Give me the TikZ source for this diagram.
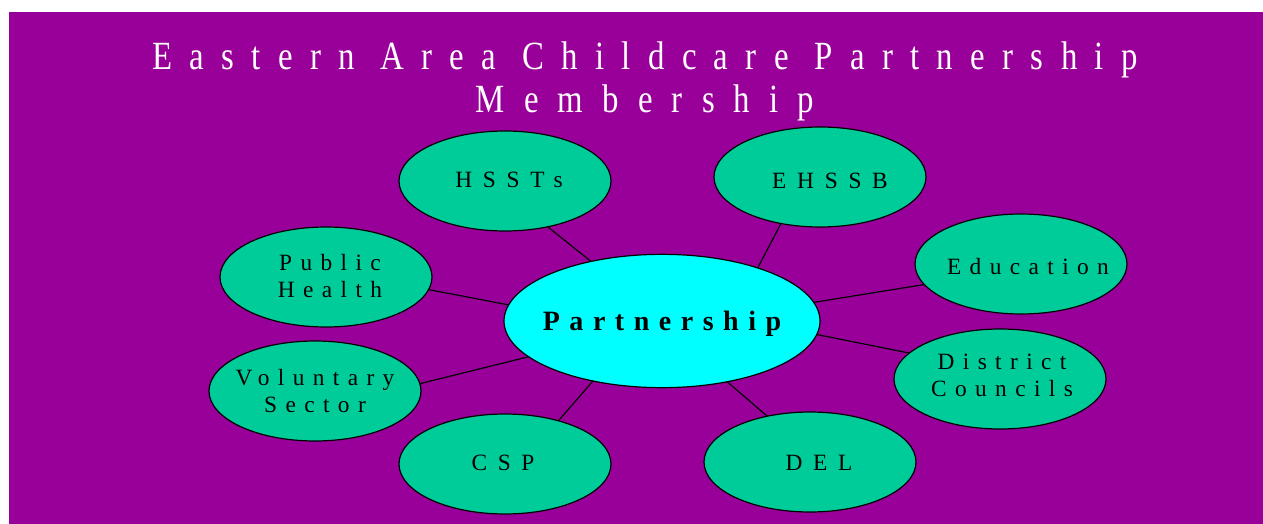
\documentclass[tikz,border=0pt]{standalone}
\usepackage{fontspec}
\setmainfont{Liberation Serif}
\newfontfamily\ttlfont[LetterSpace=43.5,FakeStretch=0.82]{Liberation Serif}
\newfontfamily\ttlfontb[LetterSpace=48,FakeStretch=0.82]{Liberation Serif}
\newfontfamily\lblfont[LetterSpace=36]{Liberation Serif}
\newfontfamily\lblwide[LetterSpace=46]{Liberation Serif}
\newfontfamily\pfont[LetterSpace=34]{Liberation Serif}
\definecolor{bgpurple}{HTML}{990099}
\definecolor{memgreen}{HTML}{00CC99}
\definecolor{hubcyan}{HTML}{00FFFF}
\usetikzlibrary{shapes.geometric}
% #1 = right shift (px), #2 = down shift (px), #3 = text
\newcommand{\fixtext}[3]{\makebox[0pt]{\hspace{#1\dimexpr1.5pt\relax}\raisebox{-#2\dimexpr0.75pt\relax}[\height][\depth]{\begin{tabular}{@{}c@{}}#3\end{tabular}}}}
\tikzset{
  member/.style={ellipse, draw=black, line width=0.9pt, fill=memgreen, inner sep=0pt, outer sep=0pt,
    minimum width=159pt, minimum height=75pt,
    font=\lblfont\fontsize{17.5}{20.25}\selectfont},
  wide/.style={font=\lblwide\fontsize{17.5}{20.25}\selectfont},
  hub/.style={ellipse, draw=black, line width=0.9pt, fill=hubcyan, inner sep=0pt, outer sep=0pt,
    minimum width=237pt, minimum height=100pt, font=\pfont\bfseries\fontsize{21}{24}\selectfont},
  link/.style={draw=black, line width=0.9pt}
}
\begin{document}
\begin{tikzpicture}[x=0.75pt,y=-0.75pt]
\useasboundingbox (0,0) rectangle (1263,524);
\fill[white] (0,0) rectangle (1263,524);
\fill[bgpurple] (9,12) rectangle (1263,524);
\node[text=white, align=center, font=\fontsize{30}{32.25}\selectfont] (title) at (645,81)
  {{\ttlfont Eastern Area Childcare Partnership}\\{\ttlfontb Membership}};
\node[hub] (p) at (662,321) {\fixtext{0}{3}{Partnership}};
\node[member,wide] (hssts) at (505,181) {\fixtext{4}{1}{HSSTs}};
\node[member,wide] (ehssb) at (820,177) {\fixtext{10}{6}{EHSSB}};
\node[member] (edu) at (1021,264) {\fixtext{7}{5}{Education}};
\node[member] (dc) at (1000,379) {\fixtext{2}{-1}{District\\Councils}};
\node[member,wide] (del) at (810,462) {\fixtext{9}{3}{DEL}};
\node[member,wide] (csp) at (505,464) {\fixtext{-2}{1}{CSP}};
\node[member] (vs) at (315,391) {\fixtext{0}{3}{Voluntary\\Sector}};
\node[member] (ph) at (326,277) {\fixtext{4}{2}{Public\\Health}};
\draw[link] (hssts.-47) -- (p.140.6);
\draw[link] (ehssb.-130.6) -- (p.29.9);
\draw[link] (edu.192.7) -- (p.7.3);
\draw[link] (dc.164.7) -- (p.-5.5);
\draw[link] (del.133.1) -- (p.-43.6);
\draw[link] (csp.39.6) -- (p.-139.3);
\draw[link] (vs.4.9) -- (p.195.2);
\draw[link] (ph.-7.1) -- (p.174.9);
\end{tikzpicture}
\end{document}
